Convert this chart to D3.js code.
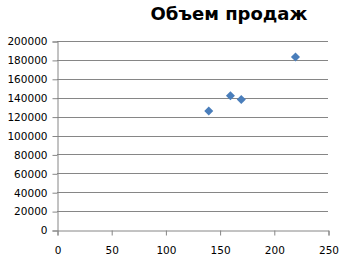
<!DOCTYPE html>
<html>
<head>
<meta charset="utf-8">
<script src="https://cdn.jsdelivr.net/npm/d3@7"></script>
<style>
  body { margin: 0; background: #fff; }
  svg { display: block; }
</style>
</head>
<body>
<svg id="chart"></svg>
<script>
// Chart values
const title = "Объем продаж";
const xValues = [140, 160, 170, 220];
const yValues = [126000, 142000, 138000, 183000];
const xTicks = [0, 50, 100, 150, 200, 250];
const yTicks = [0, 20000, 40000, 60000, 80000, 100000, 120000, 140000, 160000, 180000, 200000];

const width = 341;
const height = 260;
const margin = { top: 41, right: 13, bottom: 30, left: 57 };

const svg = d3.select("#chart")
  .attr("width", width)
  .attr("height", height);

const x = d3.scaleLinear()
  .domain([0, 250])
  .range([margin.left, width - margin.right]);

const y = d3.scaleLinear()
  .domain([0, 200000])
  .range([height - margin.bottom, margin.top]);

const axisColor = "#868686";
const fontFamily = "DejaVu Sans, Verdana, sans-serif";

// horizontal gridlines
svg.append("g")
  .selectAll("line")
  .data(yTicks.filter(d => d > 0))
  .enter().append("line")
  .attr("x1", margin.left)
  .attr("x2", width - margin.right)
  .attr("y1", d => Math.round(y(d)) + 0.5)
  .attr("y2", d => Math.round(y(d)) + 0.5)
  .attr("stroke", axisColor)
  .attr("stroke-width", 1);

// y axis
const yAxis = svg.append("g")
  .attr("transform", `translate(${margin.left + 0.5},0.5)`)
  .call(d3.axisLeft(y).tickValues(yTicks).tickSize(5).tickPadding(5).tickFormat(d3.format("d")));

// x axis
const xAxis = svg.append("g")
  .attr("transform", `translate(0.5,${height - margin.bottom + 0.5})`)
  .call(d3.axisBottom(x).tickValues(xTicks).tickSize(5).tickPadding(11).tickFormat(d3.format("d")));

[yAxis, xAxis].forEach(g => {
  g.selectAll(".domain").attr("stroke", axisColor);
  g.selectAll(".tick line").attr("stroke", axisColor);
  g.selectAll("text")
    .attr("fill", "#000")
    .style("font-family", fontFamily)
    .style("font-size", "10.5px");
});

// diamond markers
const points = xValues.map((v, i) => ({ x: v, y: yValues[i] }));
svg.append("g")
  .selectAll("path")
  .data(points)
  .enter().append("path")
  .attr("d", d3.symbol(d3.symbolDiamond2, 52))
  .attr("transform", d => `translate(${x(d.x)},${y(d.y)})`)
  .attr("fill", "#4a7ebb");

// title
svg.append("text")
  .attr("x", 229)
  .attr("y", 20)
  .attr("text-anchor", "middle")
  .style("font-family", fontFamily)
  .style("font-weight", "bold")
  .style("font-size", "18px")
  .attr("fill", "#000")
  .text(title);
</script>
</body>
</html>
